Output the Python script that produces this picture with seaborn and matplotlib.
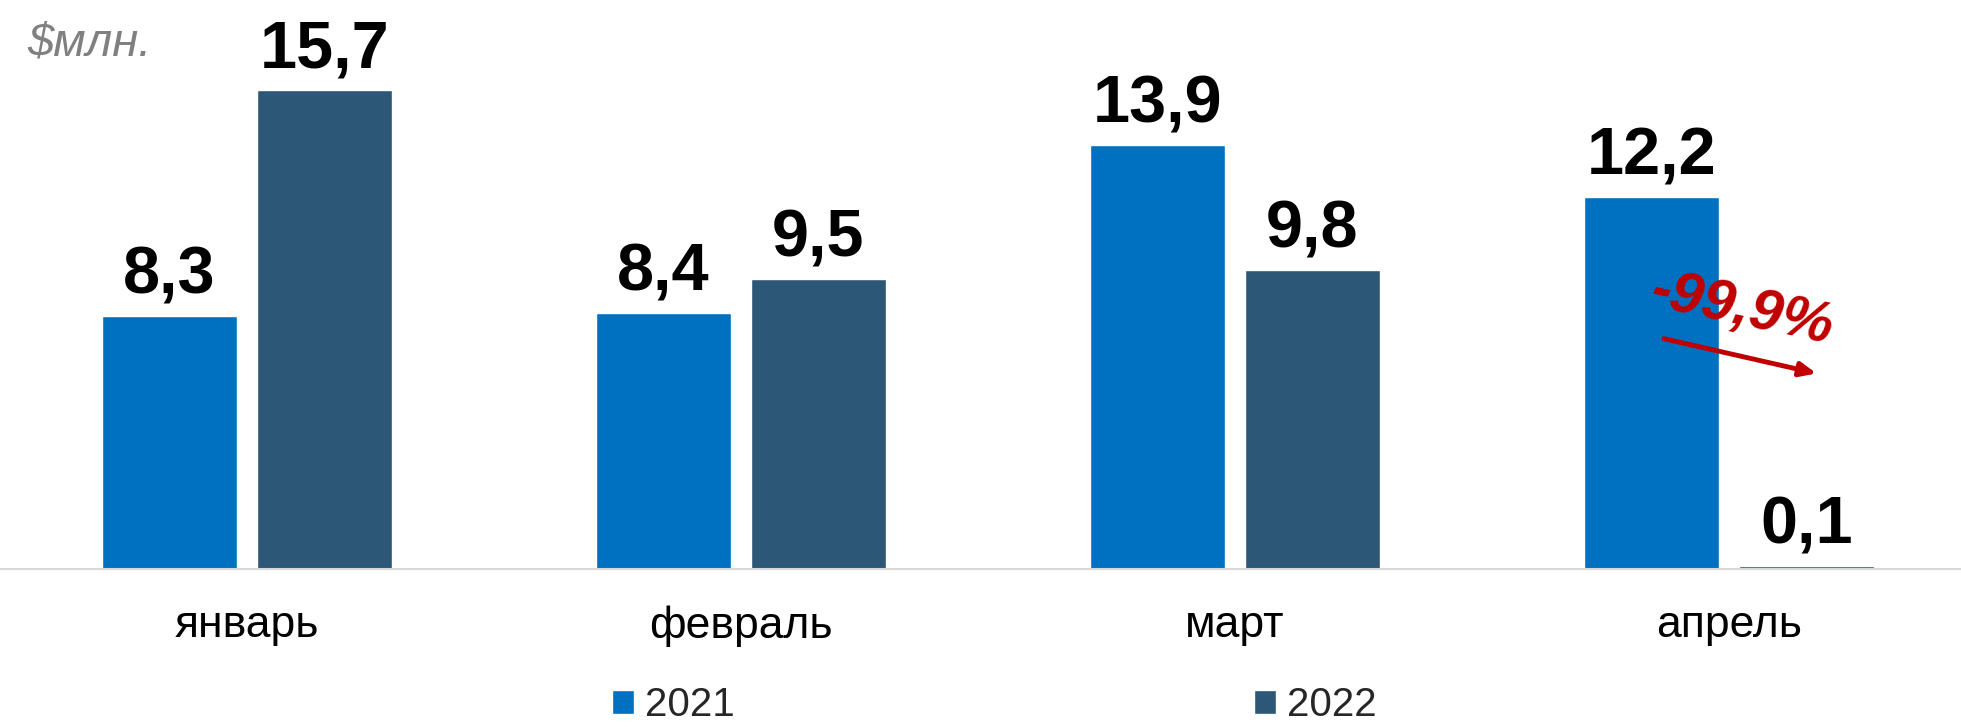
import numpy as np
import pandas as pd
import seaborn as sns
import matplotlib.pyplot as plt
from matplotlib.patches import Patch

# donnees
mois = ['январь', 'февраль', 'март', 'апрель']
annees = ['2021', '2022']
val_2021 = [8.3, 8.4, 13.9, 12.2]
val_2022 = [15.7, 9.5, 9.8, 0.1]
couleurs = ['#0070C0', '#2C5777']

df = pd.DataFrame({
    'mois': mois * 2,
    'annee': [annees[0]] * 4 + [annees[1]] * 4,
    'valeur': val_2021 + val_2022,
})

sns.set_theme(style='white')
plt.rcParams['font.family'] = ['Liberation Sans', 'DejaVu Sans']

fig = plt.figure(figsize=(19.61, 7.27), dpi=100)
ax = fig.add_axes([0, 0.2173, 1, 0.7827])

sns.barplot(data=df, x='mois', y='valeur', hue='annee', palette=couleurs,
            saturation=1, width=0.628, gap=0.129, legend=False, ax=ax)

ax.set_ylim(0, 18.65)
ax.set_xlim(-0.5, 3.47)
ax.set_xlabel('')
ax.set_ylabel('')
ax.set_yticks([])
for s in ['top', 'right', 'left']:
    ax.spines[s].set_visible(False)
ax.spines['bottom'].set_color('#D9D9D9')
ax.spines['bottom'].set_linewidth(1.5)
ax.tick_params(axis='x', length=0, pad=26, labelsize=32, colors='black')

# etiquettes des valeurs
for cont in ax.containers:
    ax.bar_label(cont, labels=[f'{v:.1f}'.replace('.', ',') for v in cont.datavalues],
                 padding=6, fontsize=48, fontweight='bold', color='black')

# unite
fig.text(0.014, 0.94, '$млн.', fontsize=34, style='italic', color='#808080', va='center')

# fleche de variation pour avril
ax.annotate('', xy=(3.183, 6.39), xytext=(2.863, 7.57),
            arrowprops=dict(arrowstyle='-|>,head_length=0.8,head_width=0.35',
                            color='#C00000', lw=3.5))
ax.text(3.026, 8.5, '-99,9%', fontsize=42, fontweight='bold', style='italic',
        color='#C00000', rotation=-12, ha='center', va='center', rotation_mode='anchor')

# legende
poignees = [Patch(facecolor=c) for c in couleurs]
fig.legend(poignees, annees, loc='lower center', bbox_to_anchor=(0.507, -0.046), ncol=2,
           frameon=False, fontsize=29, handlelength=0.55, handleheight=0.55,
           handletextpad=0.27, columnspacing=12.9)

fig.savefig('out.png', dpi=100)
